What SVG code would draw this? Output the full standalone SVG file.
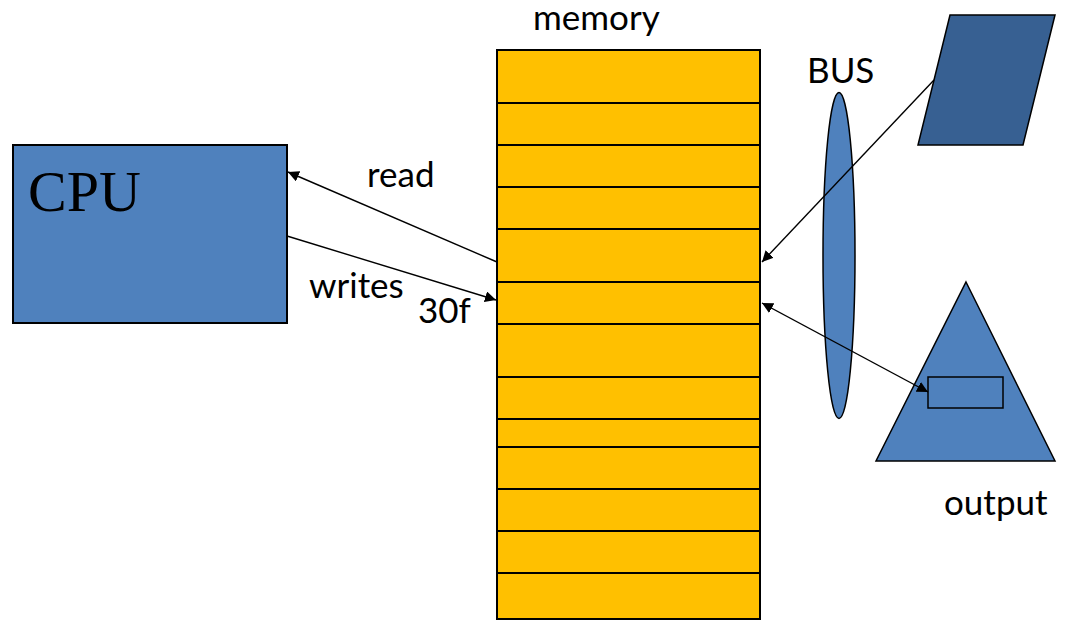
<svg xmlns="http://www.w3.org/2000/svg" width="1068" height="629" viewBox="0 0 1068 629">
<defs>
<marker id="ah" viewBox="0 0 10 10" refX="10" refY="5" markerWidth="11" markerHeight="11" markerUnits="userSpaceOnUse" orient="auto-start-reverse">
<path d="M0,0 L10,5 L0,10 z" fill="#000"/>
</marker>
<style>
.lbl{font-family:Lato,"Liberation Sans",sans-serif;font-size:35px;fill:#000}
.conn{stroke:#000;stroke-width:1.4;fill:none}
.row{stroke:#000;stroke-width:2}
</style>
</defs>
<rect width="1068" height="629" fill="#fff"/>
<g id="cpu">
<rect x="13" y="145" width="274" height="178" fill="#4f81bd" stroke="#000" stroke-width="2"/>
<text x="28" y="211" font-family="'Liberation Serif',serif" font-size="58" fill="#000">CPU</text>
</g>
<g id="memory">
<rect x="497" y="50" width="263" height="569" fill="#ffc000" stroke="#000" stroke-width="2"/>
<g class="row">
<line x1="497" y1="103" x2="760" y2="103"/>
<line x1="497" y1="145" x2="760" y2="145"/>
<line x1="497" y1="187" x2="760" y2="187"/>
<line x1="497" y1="229" x2="760" y2="229"/>
<line x1="497" y1="282" x2="760" y2="282"/>
<line x1="497" y1="324" x2="760" y2="324"/>
<line x1="497" y1="377" x2="760" y2="377"/>
<line x1="497" y1="419" x2="760" y2="419"/>
<line x1="497" y1="447" x2="760" y2="447"/>
<line x1="497" y1="489" x2="760" y2="489"/>
<line x1="497" y1="531" x2="760" y2="531"/>
<line x1="497" y1="573" x2="760" y2="573"/>
</g>
<text class="lbl" x="533" y="30">memory</text>
<text class="lbl" x="418" y="323">30f</text>
</g>
<g id="bus">
<ellipse cx="839" cy="255.5" rx="16" ry="163" fill="#4f81bd" stroke="#000" stroke-width="1.5"/>
<text class="lbl" x="807" y="83">BUS</text>
</g>
<g id="input">
<polygon points="950,15 1055,15 1023,145 918,145" fill="#376092" stroke="#000" stroke-width="1.5"/>
</g>
<g id="output">
<polygon points="966,282 1055,461 876,461" fill="#4f81bd" stroke="#000" stroke-width="1.5"/>
<rect x="928" y="377" width="75" height="31" fill="#4f81bd" stroke="#000" stroke-width="1.5"/>
<text class="lbl" x="944" y="515">output</text>
</g>
<g id="connectors">
<line class="conn" x1="497" y1="262" x2="288" y2="172" marker-end="url(#ah)"/>
<line class="conn" x1="287" y1="236" x2="496" y2="300" marker-end="url(#ah)"/>
<line class="conn" x1="934" y1="80" x2="762" y2="262" marker-end="url(#ah)"/>
<line class="conn" x1="762" y1="303" x2="928" y2="392" marker-start="url(#ah)" marker-end="url(#ah)"/>
<text class="lbl" x="367" y="187">read</text>
<text class="lbl" x="309" y="298">writes</text>
</g>
</svg>
